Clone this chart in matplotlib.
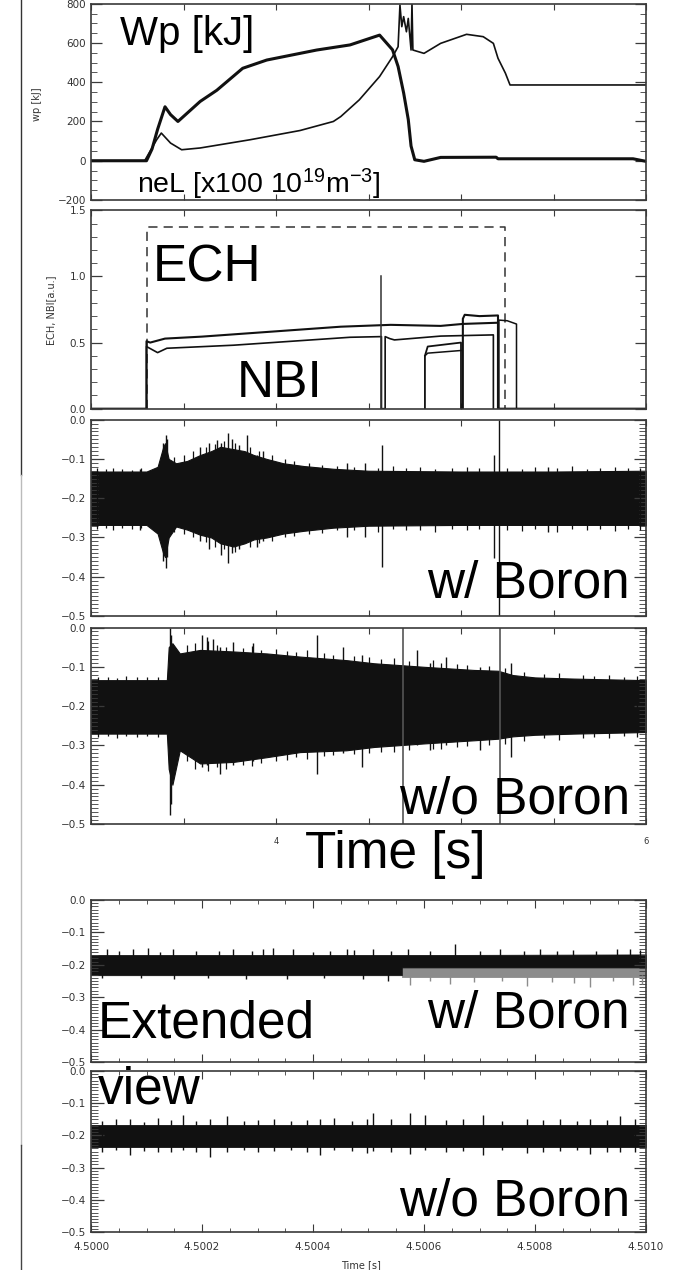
import numpy as np
import matplotlib.pyplot as plt
from matplotlib.lines import Line2D
from matplotlib.ticker import MultipleLocator

plt.rcParams['font.family'] = ['Liberation Sans', 'DejaVu Sans']
plt.rcParams['mathtext.fontset'] = 'custom'
plt.rcParams['mathtext.rm'] = 'Liberation Sans'
plt.rcParams['mathtext.it'] = 'Liberation Sans:italic'

W, H = 692, 1270

# --- stored energy and line density (top panel)
wp_t = [3.00, 3.30, 3.33, 3.36, 3.40, 3.43, 3.47, 3.59, 3.68, 3.82, 3.95, 4.04, 4.22, 4.40,
        4.56, 4.63, 4.66, 4.69, 4.715, 4.73, 4.75, 4.80, 4.89, 5.19, 5.20, 5.93, 6.00]
wp_v = [0, 0, 60, 160, 275, 235, 200, 302, 359, 471, 513, 530, 564, 590,
        640, 565, 480, 345, 210, 75, 5, -3, 17, 18, 10, 10, -3]
ne_t = [3.00, 3.29, 3.355, 3.38, 3.43, 3.49, 3.59, 3.86, 4.13, 4.31, 4.35, 4.45, 4.56, 4.63,
        4.66, 4.67, 4.68, 4.69, 4.705, 4.715, 4.73, 4.735, 4.74, 4.80, 4.89, 5.03, 5.12,
        5.175, 5.20, 5.24, 5.265, 6.00]
ne_v = [0, 0, 107, 141, 90, 56, 65, 107, 154, 200, 225, 310, 429, 530,
        581, 793, 683, 734, 657, 725, 564, 800, 564, 547, 598, 644, 632,
        598, 522, 446, 386, 386]

# --- heating (second panel)
ech_t = [3.30, 3.30, 5.24, 5.24]
ech_v = [0, 1.37, 1.37, 0]
nbi_a_t = [3.00, 3.30, 3.30, 3.32, 3.40, 3.60, 3.95, 4.35, 4.62, 4.89, 5.01, 5.20, 5.20, 6.00]
nbi_a_v = [0, 0, 0.51, 0.50, 0.53, 0.545, 0.58, 0.62, 0.634, 0.626, 0.641, 0.65, 0, 0]
nbi_b_t = [3.30, 3.30, 3.36, 3.41, 3.77, 4.40, 4.57, 4.57, 4.59, 4.59, 4.615, 4.64, 4.89, 5.175, 5.175]
nbi_b_v = [0, 0.47, 0.424, 0.457, 0.48, 0.54, 0.545, 0, 0, 0.545, 0.53, 0.52, 0.549, 0.558, 0]
nbi_c_t = [4.805, 4.805, 4.82, 5.00, 5.00]
nbi_c_v = [0, 0.40, 0.47, 0.50, 0]
nbi_d_t = [4.805, 4.82, 5.00]
nbi_d_v = [0.40, 0.42, 0.44]
nbi_e_t = [5.01, 5.01, 5.02, 5.10, 5.20, 5.20]
nbi_e_v = [0, 0.68, 0.71, 0.70, 0.705, 0]
nbi_f_t = [5.205, 5.205, 5.25, 5.30, 5.30]
nbi_f_v = [0, 0.67, 0.665, 0.64, 0]
spike_t = [4.57, 4.57]
spike_v = [0, 1.0]

# --- fluctuation envelope, w/ Boron
b_t = [3.00, 3.30, 3.36, 3.39, 3.40, 3.42, 3.46, 3.52, 3.59, 3.65, 3.70, 3.77, 3.83, 3.88,
       3.95, 4.04, 4.15, 4.31, 4.50, 5.00, 5.50, 6.00]
b_top = [-0.132, -0.132, -0.12, -0.07, -0.06, -0.10, -0.111, -0.105, -0.090, -0.08, -0.069,
         -0.075, -0.08, -0.090, -0.10, -0.111, -0.118, -0.125, -0.130, -0.132, -0.132, -0.130]
b_bot = [-0.268, -0.268, -0.29, -0.34, -0.35, -0.30, -0.272, -0.28, -0.293, -0.30, -0.315,
         -0.323, -0.315, -0.305, -0.30, -0.29, -0.283, -0.275, -0.270, -0.268, -0.268, -0.268]
b_sp_t = [3.265, 3.391, 3.404, 3.41, 3.59, 3.64, 3.679, 3.70, 3.739, 3.76, 3.80, 3.842, 3.896,
          3.93, 4.382, 4.48, 4.571, 5.178, 5.207, 5.47]
b_sp_lo = [-0.28, -0.36, -0.377, -0.35, -0.31, -0.33, -0.30, -0.344, -0.365, -0.34, -0.33,
           -0.31, -0.323, -0.31, -0.298, -0.30, -0.374, -0.353, -0.50, -0.285]
b_sp_hi = [-0.125, -0.06, -0.04, -0.05, -0.069, -0.06, -0.052, -0.06, -0.035, -0.05, -0.065,
           -0.039, -0.09, -0.08, -0.11, -0.111, -0.064, -0.09, 0.0, -0.12]
b_edge_t = [3.03, 3.08, 3.12, 3.17, 3.22, 3.27, 3.45, 3.50, 3.55, 3.62, 3.67, 3.72, 3.78,
            3.86, 3.91, 3.98, 4.05, 4.10, 4.18, 4.25, 4.33, 4.42, 4.55, 4.63, 4.70, 4.78,
            4.86, 4.95, 5.03, 5.10, 5.25, 5.33, 5.40, 5.52, 5.60, 5.68, 5.75, 5.83, 5.90, 5.97]
b_edge_hi = [-0.124, -0.126, -0.122, -0.125, -0.127, -0.123, -0.095, -0.090, -0.080, -0.070,
             -0.062, -0.055, -0.060, -0.070, -0.080, -0.090, -0.100, -0.105, -0.110, -0.115,
             -0.118, -0.120, -0.122, -0.118, -0.124, -0.121, -0.125, -0.122, -0.120, -0.124,
             -0.122, -0.125, -0.121, -0.124, -0.118, -0.125, -0.122, -0.120, -0.124, -0.122]
b_edge_lo = [-0.278, -0.275, -0.280, -0.276, -0.279, -0.277, -0.285, -0.290, -0.300, -0.312,
             -0.325, -0.330, -0.338, -0.325, -0.315, -0.310, -0.300, -0.295, -0.290, -0.288,
             -0.282, -0.280, -0.285, -0.278, -0.282, -0.280, -0.285, -0.278, -0.281, -0.279,
             -0.280, -0.283, -0.278, -0.286, -0.279, -0.281, -0.278, -0.283, -0.279, -0.281]

# --- fluctuation envelope, w/o Boron
o_t = [3.00, 3.41, 3.42, 3.44, 3.48, 3.59, 3.77, 3.95, 4.13, 4.38, 4.53, 4.80, 5.07, 5.20,
       5.28, 5.40, 5.61, 6.00]
o_top = [-0.134, -0.134, -0.05, -0.04, -0.066, -0.057, -0.061, -0.066, -0.074, -0.083, -0.091,
         -0.100, -0.108, -0.110, -0.121, -0.127, -0.130, -0.134]
o_bot = [-0.270, -0.270, -0.36, -0.40, -0.3125, -0.346, -0.342, -0.330, -0.317, -0.3125,
         -0.304, -0.295, -0.287, -0.283, -0.277, -0.273, -0.270, -0.266]
o_sp_t = [3.427, 3.435, 3.598, 3.625, 3.661, 3.697, 3.77, 3.878, 4.22, 4.364, 4.463, 4.76,
          4.832, 4.92, 5.103, 5.272]
o_sp_lo = [-0.478, -0.45, -0.355, -0.35, -0.34, -0.372, -0.35, -0.34, -0.372, -0.32, -0.355,
           -0.30, -0.3125, -0.30, -0.3125, -0.33]
o_sp_hi = [0.0, -0.02, -0.019, -0.023, -0.028, -0.05, -0.036, -0.04, -0.019, -0.049, -0.07,
           -0.057, -0.09, -0.074, -0.10, -0.091]
o_full_t = [4.688, 5.211]
o_edge_t = [3.04, 3.09, 3.14, 3.19, 3.25, 3.30, 3.36, 3.52, 3.56, 3.63, 3.68, 3.73, 3.82,
            3.87, 3.92, 4.00, 4.06, 4.11, 4.17, 4.26, 4.31, 4.42, 4.50, 4.57, 4.64, 4.72,
            4.85, 4.89, 4.98, 5.03, 5.15, 5.24, 5.34, 5.45, 5.53, 5.66, 5.72, 5.80, 5.88, 5.95]
o_edge_hi = [-0.127, -0.125, -0.128, -0.124, -0.127, -0.126, -0.125, -0.045, -0.040, -0.035,
             -0.045, -0.050, -0.052, -0.048, -0.058, -0.055, -0.060, -0.062, -0.058, -0.066,
             -0.070, -0.072, -0.075, -0.080, -0.078, -0.085, -0.082, -0.090, -0.092, -0.095,
             -0.098, -0.103, -0.112, -0.118, -0.115, -0.122, -0.124, -0.120, -0.125, -0.123]
o_edge_lo = [-0.278, -0.276, -0.280, -0.277, -0.279, -0.276, -0.278, -0.340, -0.360, -0.365,
             -0.355, -0.360, -0.350, -0.352, -0.345, -0.340, -0.338, -0.330, -0.335, -0.328,
             -0.325, -0.322, -0.320, -0.318, -0.316, -0.312, -0.310, -0.308, -0.305, -0.302,
             -0.300, -0.296, -0.288, -0.282, -0.285, -0.280, -0.278, -0.282, -0.276, -0.279]

# --- extended view, w/ Boron (black and grey traces)
e1_t = [4.50000, 4.50056, 4.50056, 4.50100]
e1_top = [-0.170, -0.170, -0.170, -0.168]
e1_bot = [-0.232, -0.232, -0.208, -0.208]
e1g_t = [4.50056, 4.50100]
e1g_top = [-0.206, -0.206]
e1g_bot = [-0.238, -0.238]
e1_sp_t = [4.500028, 4.500050, 4.500076, 4.500103, 4.500125, 4.500148, 4.500190, 4.500230,
           4.500256, 4.500290, 4.500310, 4.500328, 4.500364, 4.500400, 4.500430, 4.500461,
           4.500473, 4.500509, 4.500540, 4.500572, 4.500610, 4.500656, 4.500700, 4.500737,
           4.500780, 4.500809, 4.500840, 4.500869, 4.500910, 4.500947, 4.500971, 4.500990]
e1_sp_hi = [-0.150, -0.158, -0.152, -0.149, -0.160, -0.150, -0.158, -0.156, -0.152, -0.158,
            -0.150, -0.149, -0.152, -0.160, -0.156, -0.150, -0.155, -0.150, -0.158, -0.150,
            -0.157, -0.136, -0.158, -0.152, -0.156, -0.150, -0.158, -0.155, -0.157, -0.150,
            -0.150, -0.155]
e1_lo_t = [4.500020, 4.500090, 4.500150, 4.500210, 4.500280, 4.500353, 4.500420, 4.500490,
           4.500536]
e1_lo = [-0.242, -0.240, -0.245, -0.241, -0.243, -0.245, -0.240, -0.243, -0.250]
e1g_sp_t = [4.500575, 4.500610, 4.500647, 4.500690, 4.500740, 4.500785, 4.500830, 4.500870,
            4.500899, 4.500940, 4.500977, 4.500992]
e1g_sp_lo = [-0.262, -0.250, -0.258, -0.252, -0.250, -0.265, -0.252, -0.255, -0.268, -0.250,
             -0.262, -0.260]

# --- extended view, w/o Boron
e2_t = [4.50000, 4.50100]
e2_top = [-0.168, -0.168]
e2_bot = [-0.235, -0.235]
e2_sp_t = [4.500020, 4.500045, 4.500070, 4.500095, 4.500120, 4.500145, 4.500166, 4.500190,
           4.500214, 4.500245, 4.500275, 4.500300, 4.500330, 4.500360, 4.500390, 4.500413,
           4.500437, 4.500470, 4.500497, 4.500509, 4.500540, 4.500575, 4.500602, 4.500640,
           4.500670, 4.500707, 4.500740, 4.500785, 4.500815, 4.500845, 4.500875, 4.500899,
           4.500930, 4.500953, 4.500980]
e2_sp_lo = [-0.250, -0.245, -0.261, -0.248, -0.250, -0.252, -0.245, -0.250, -0.267, -0.250,
            -0.246, -0.252, -0.248, -0.245, -0.250, -0.261, -0.245, -0.248, -0.255, -0.248,
            -0.250, -0.258, -0.245, -0.250, -0.248, -0.261, -0.246, -0.255, -0.250, -0.248,
            -0.246, -0.258, -0.250, -0.250, -0.252]
e2_sp_hi = [-0.155, -0.150, -0.150, -0.158, -0.145, -0.152, -0.137, -0.155, -0.150, -0.140,
            -0.155, -0.152, -0.148, -0.155, -0.152, -0.150, -0.145, -0.155, -0.150, -0.131,
            -0.150, -0.130, -0.137, -0.152, -0.148, -0.137, -0.155, -0.150, -0.152, -0.150,
            -0.155, -0.148, -0.152, -0.140, -0.150]

INK = '#111111'
FRAME = '#3a3a3a'

fig = plt.figure(figsize=(W / 100, H / 100), dpi=100)


def add_panel(top, bottom):
    ax = fig.add_axes([91 / W, 1 - bottom / H, (646 - 91) / W, (bottom - top) / H])
    for s in ax.spines.values():
        s.set_color(FRAME)
        s.set_linewidth(1.2)
    ax.tick_params(which='both', direction='in', top=True, right=True, color=FRAME,
                   labelsize=7.5, labelcolor='#333333')
    return ax


def main_xaxis(ax):
    ax.set_xlim(3.0, 6.0)
    ax.set_xticks(np.arange(3.0, 6.01, 0.5))
    ax.tick_params(axis='x', which='major', length=4, width=0.8)
    ax.set_xticklabels([])


def noise_yaxis(ax):
    ax.set_ylim(-0.5, 0.0)
    ax.yaxis.set_minor_locator(MultipleLocator(0.01))
    ax.tick_params(axis='y', which='major', length=9, width=0.9)
    ax.tick_params(axis='y', which='minor', length=5, width=0.6)
    ax.set_yticks(np.arange(-0.5, 0.01, 0.1))
    ax.set_yticklabels(['\u22120.5', '\u22120.4', '\u22120.3', '\u22120.2', '\u22120.1', '0.0'],
                       family='DejaVu Sans')


def noise(ax, t, bot, top, sp_t, sp_lo, sp_hi, ed_t=None, ed_lo=None, ed_hi=None):
    ax.fill_between(t, bot, top, color=INK, lw=0.8)
    if ed_t is not None:
        ax.vlines(ed_t, ed_lo, ed_hi, color=INK, lw=0.9)
    ax.vlines(sp_t, sp_lo, sp_hi, color=INK, lw=1.0)


# panel 1
ax1 = add_panel(3.7, 200)
main_xaxis(ax1)
ax1.set_ylim(-200, 800)
ax1.yaxis.set_minor_locator(MultipleLocator(50))
ax1.tick_params(axis='y', which='major', length=8, width=0.9)
ax1.tick_params(axis='y', which='minor', length=4, width=0.6)
ax1.set_yticks([-200, 0, 200, 400, 600, 800])
ax1.set_yticklabels(['\u2212200', '0', '200', '400', '600', '800'], family='DejaVu Sans')
ax1.plot(wp_t, wp_v, color=INK, lw=2.2, solid_joinstyle='round')
ax1.plot(ne_t, ne_v, color=INK, lw=1.2)

# panel 2
ax2 = add_panel(210.3, 408.7)
main_xaxis(ax2)
ax2.set_ylim(0, 1.5)
ax2.yaxis.set_minor_locator(MultipleLocator(0.1))
ax2.tick_params(axis='y', which='major', length=8, width=0.9)
ax2.tick_params(axis='y', which='minor', length=4, width=0.6)
ax2.set_yticks([0, 0.5, 1.0, 1.5])
ax2.set_yticklabels(['0.0', '0.5', '1.0', '1.5'], family='DejaVu Sans')
ax2.plot(ech_t, ech_v, color='#333333', lw=1.1, ls=(0, (6, 4)))
ax2.plot(nbi_a_t, nbi_a_v, color=INK, lw=1.5)
ax2.plot(nbi_b_t, nbi_b_v, color=INK, lw=1.2)
ax2.plot(nbi_c_t, nbi_c_v, color=INK, lw=1.3)
ax2.plot(nbi_d_t, nbi_d_v, color=INK, lw=1.1)
ax2.plot(nbi_e_t, nbi_e_v, color=INK, lw=1.5)
ax2.plot(nbi_f_t, nbi_f_v, color=INK, lw=1.1)
ax2.plot(spike_t, spike_v, color='#333333', lw=1.1)

# panel 3: w/ Boron
ax3 = add_panel(419.7, 616)
main_xaxis(ax3)
noise_yaxis(ax3)
noise(ax3, b_t, b_bot, b_top, b_sp_t, b_sp_lo, b_sp_hi, b_edge_t, b_edge_lo, b_edge_hi)

# panel 4: w/o Boron
ax4 = add_panel(627.5, 824)
main_xaxis(ax4)
noise_yaxis(ax4)
noise(ax4, o_t, o_bot, o_top, o_sp_t, o_sp_lo, o_sp_hi, o_edge_t, o_edge_lo, o_edge_hi)
ax4.vlines(o_full_t, -0.5, 0.0, color='#555555', lw=1.2)
ax4.set_xticklabels(['', '', '4', '', '', '', '6'], family='DejaVu Sans')
ax4.tick_params(axis='x', labelsize=6, pad=9)

# panel 5: extended view, w/ Boron
ax5 = add_panel(900, 1062)
noise_yaxis(ax5)
ax5.set_xlim(4.5000, 4.5010)
ax5.xaxis.set_major_locator(MultipleLocator(0.0002))
ax5.xaxis.set_minor_locator(MultipleLocator(0.00005))
ax5.tick_params(axis='x', which='major', length=6, width=0.8)
ax5.tick_params(axis='x', which='minor', length=3, width=0.6)
ax5.set_xticklabels([])
ax5.fill_between(e1g_t, e1g_bot, e1g_top, color='#8c8c8c', lw=0.6)
ax5.vlines(e1g_sp_t, e1g_sp_lo, -0.23, color='#8c8c8c', lw=1.0)
ax5.fill_between(e1_t, e1_bot, e1_top, color=INK, lw=0.6)
ax5.vlines(e1_sp_t, -0.19, e1_sp_hi, color=INK, lw=1.0)
ax5.vlines(e1_lo_t, e1_lo, -0.22, color=INK, lw=1.0)

# panel 6: extended view, w/o Boron
ax6 = add_panel(1071, 1232)
noise_yaxis(ax6)
ax6.set_xlim(4.5000, 4.5010)
ax6.xaxis.set_minor_locator(MultipleLocator(0.00005))
ax6.tick_params(axis='x', which='major', length=6, width=0.8, labelsize=7.5, pad=7)
ax6.tick_params(axis='x', which='minor', length=3, width=0.6)
ax6.set_xticks(np.linspace(4.5, 4.501, 6))
ax6.set_xticklabels(['4.5000', '4.5002', '4.5004', '4.5006', '4.5008', '4.5010'],
                    family='DejaVu Sans')
ax6.fill_between(e2_t, e2_bot, e2_top, color=INK, lw=0.6)
ax6.vlines(e2_sp_t, e2_sp_lo, e2_sp_hi, color=INK, lw=1.0)


def ftext(x, y, s, **kw):
    fig.text(x / W, 1 - y / H, s, va='baseline', **kw)


# small axis labels
fig.text(37 / W, 1 - 104 / H, 'wp [kJ]', rotation=90, ha='center', va='center',
         fontsize=7, color='#333333', family='DejaVu Sans')
fig.text(51 / W, 1 - 310 / H, 'ECH, NBI[a.u.]', rotation=90, ha='center', va='center',
         fontsize=7, color='#333333', family='DejaVu Sans')
ftext(361, 1268, 'Time [s]', ha='center', fontsize=7, color='#333333', family='DejaVu Sans')

# large annotations
ftext(120, 45, 'Wp [kJ]', fontsize=29)
ftext(137, 193, r'neL [x100 10$^{19}$m$^{-3}$]', fontsize=20.5)
ftext(153, 282, 'ECH', fontsize=37)
ftext(237, 397, 'NBI', fontsize=37)
ftext(630, 597, 'w/ Boron', ha='right', fontsize=37)
ftext(630, 813, 'w/o Boron', ha='right', fontsize=37)
ftext(305, 868, 'Time [s]', fontsize=37)
ftext(98, 1038, 'Extended', fontsize=37)
ftext(98, 1103, 'view', fontsize=37)
ftext(630, 1028, 'w/ Boron', ha='right', fontsize=37)
ftext(630, 1215, 'w/o Boron', ha='right', fontsize=37)

# slide margin line
fig.add_artist(Line2D([21 / W, 21 / W], [1, 1 - 475 / H], color='#333333', lw=1.0))
fig.add_artist(Line2D([21 / W, 21 / W], [1 - 475 / H, 1 - 1145 / H], color='#bbbbbb', lw=1.0))
fig.add_artist(Line2D([21 / W, 21 / W], [1 - 1145 / H, 0], color='#444444', lw=1.0))

fig.savefig('out.png', dpi=100)
